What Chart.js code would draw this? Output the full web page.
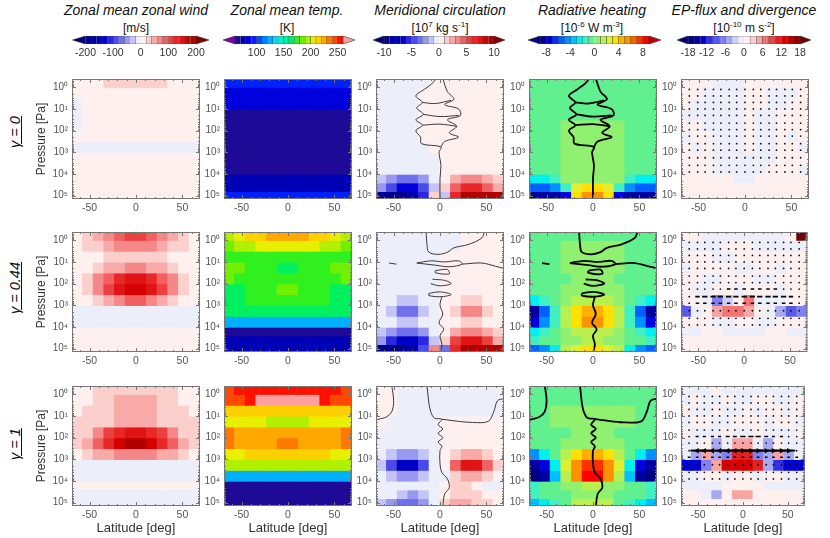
<!DOCTYPE html>
<html>
<head>
<meta charset="utf-8">
<script src="https://cdn.jsdelivr.net/npm/chart.js@4.4.1/dist/chart.umd.min.js"></script>
<style>
body{margin:0;width:830px;height:538px;background:#fff;position:relative;overflow:hidden;font-family:"Liberation Sans",Arial,sans-serif;color:#111}
canvas{position:absolute}
.t{position:absolute;top:2px;width:200px;text-align:center;font-style:italic;font-size:14px}
.u{position:absolute;top:21px;width:200px;text-align:center;font-size:12px;line-height:14px}
.u sup{font-size:8px;line-height:0}
.g{position:absolute;left:15px;font-style:italic;font-size:14.5px;text-decoration:underline;white-space:nowrap;transform:translate(-50%,-50%) rotate(-90deg)}
</style>
</head>
<body>
<div class="t" style="left:36px">Zonal mean zonal wind</div>
<div class="t" style="left:187px">Zonal mean temp.</div>
<div class="t" style="left:340px">Meridional circulation</div>
<div class="t" style="left:492px">Radiative heating</div>
<div class="t" style="left:644px">EP-flux and divergence</div>
<div class="u" style="left:36px">[m/s]</div>
<div class="u" style="left:187px">[K]</div>
<div class="u" style="left:340px">[10<sup>7</sup> kg s<sup>-1</sup>]</div>
<div class="u" style="left:492px">[10<sup>-6</sup> W m<sup>-3</sup>]</div>
<div class="u" style="left:644px">[10<sup>-10</sup> m s<sup>-2</sup>]</div>
<div class="g" style="top:132px">γ = 0</div>
<div class="g" style="top:288px">γ = 0.44</div>
<div class="g" style="top:444px">γ = 1</div>
<script>
// grid: latitude cell centres (deg) and pressure cell edges (log10 Pa)
const lat = [-63.25, -51.75, -40.25, -28.75, -17.25, -5.75, 5.75, 17.25, 28.75, 40.25, 51.75, 63.25];
const logP = [-0.4, 0, 0.5, 1, 1.5, 2, 2.5, 3, 3.5, 4, 4.4, 4.8, 5.2];
const latTicks = [-50, 0, 50];
const pTicks = [0, 1, 2, 3, 4, 5];

// zonal mean zonal wind [m/s]
const uG0 = [
  [5,5,5,25,25,25,25,25,25,5,5,5],
  [5,5,5,5,5,5,5,5,5,5,5,5],
  [-5,5,5,5,5,5,5,5,5,5,5,5],
  [-5,5,5,5,5,5,5,5,5,5,5,5],
  [-5,5,5,5,5,5,5,5,5,5,5,5],
  [5,5,5,5,5,5,5,5,5,5,5,5],
  [-5,-5,-5,-5,-5,-5,-5,-5,-5,-5,-5,-5],
  [5,5,5,5,5,5,5,5,5,5,5,5],
  [5,5,5,5,5,5,5,5,5,5,5,5],
  [5,5,5,5,5,5,5,5,5,5,5,5],
  [5,5,5,5,5,5,5,5,5,5,5,5],
  [5,5,5,5,5,5,5,5,5,5,5,5]
];
const uG044 = [
  [15,30,50,70,90,100,100,90,70,50,30,15],
  [10,25,35,50,65,75,75,65,50,35,25,10],
  [5,5,15,25,25,25,25,25,25,15,5,5],
  [5,15,30,45,55,60,60,55,45,30,15,5],
  [5,30,60,95,125,145,145,125,95,60,30,5],
  [5,35,70,110,150,170,170,150,110,70,35,5],
  [5,15,35,55,70,80,80,70,55,35,15,5],
  [-5,-5,-5,-5,-5,-5,-5,-5,-5,-5,-5,-5],
  [-5,-5,-5,-5,-5,-5,-5,-5,-5,-5,-5,-5],
  [5,5,5,5,5,5,5,5,5,5,5,5],
  [5,5,5,5,5,5,5,5,5,5,5,5],
  [5,5,5,5,5,5,5,5,5,5,5,5]
];
const uG1 = [
  [5,5,25,25,25,25,25,25,25,25,5,5],
  [5,5,25,30,45,45,45,45,30,25,5,5],
  [5,25,25,30,45,50,50,45,30,25,25,5],
  [25,25,30,35,40,45,45,40,35,30,25,25],
  [25,35,60,100,130,150,150,130,100,60,35,25],
  [25,40,80,130,165,185,185,165,130,80,40,25],
  [15,25,40,55,65,70,70,65,55,40,25,15],
  [-5,-5,-5,-5,-5,-5,-5,-5,-5,-5,-5,-5],
  [-5,-5,-5,-5,-5,-5,-5,-5,-5,-5,-5,-5],
  [5,5,5,5,5,5,5,5,5,5,5,5],
  [-5,-5,-5,-5,-5,-5,-5,-5,-5,-5,-5,-5],
  [-5,-5,-5,-5,-5,-5,-5,-5,-5,-5,-5,-5]
];

// zonal mean temperature [K]
const tG0 = [
  [95,95,95,95,95,95,95,95,95,95,95,95],
  [85,85,85,85,85,85,85,85,85,85,85,85],
  [85,85,85,85,85,85,85,85,85,85,85,85],
  [65,65,65,65,65,65,65,65,65,65,65,65],
  [65,65,65,65,65,65,65,65,65,65,65,65],
  [65,65,65,65,65,65,65,65,65,65,65,65],
  [65,65,65,65,65,65,65,65,65,65,65,65],
  [65,65,65,65,65,65,65,65,65,65,65,65],
  [65,65,65,65,65,65,65,65,65,65,65,65],
  [75,75,75,75,75,75,75,75,75,75,75,75],
  [75,75,75,75,75,75,75,75,75,75,75,75],
  [90,90,90,90,90,90,90,90,90,90,90,90]
];
const tG044 = [
  [195,205,210,215,225,225,225,225,215,210,205,195],
  [185,190,195,200,205,205,205,205,200,195,190,185],
  [175,175,175,175,175,175,175,175,175,175,175,175],
  [185,185,175,175,175,165,165,175,175,175,185,185],
  [185,175,175,175,175,175,175,175,175,175,175,185],
  [165,165,175,175,175,185,185,175,175,175,165,165],
  [165,165,175,175,175,175,175,175,175,175,165,165],
  [165,165,165,165,165,165,165,165,165,165,165,165],
  [125,125,125,125,125,125,125,125,125,125,125,125],
  [65,65,65,65,65,65,65,65,65,65,65,65],
  [75,75,75,75,75,75,75,75,75,75,75,75],
  [75,75,75,75,75,75,75,75,75,75,75,75]
];
const tG1 = [
  [245,250,255,255,255,255,255,255,255,255,250,245],
  [242,248,255,262,262,262,262,262,262,255,248,242],
  [215,215,215,215,215,215,215,215,215,215,215,215],
  [205,205,205,205,195,195,195,195,205,205,205,205],
  [235,225,222,222,222,222,222,222,222,222,225,235],
  [235,225,222,222,222,232,232,222,222,222,225,235],
  [205,205,215,215,215,215,215,215,215,215,205,205],
  [195,195,195,195,195,195,195,195,195,195,195,195],
  [125,125,125,125,125,125,125,125,125,125,125,125],
  [65,65,65,65,65,65,65,65,65,65,65,65],
  [65,65,65,65,65,65,65,65,65,65,65,65],
  [65,65,65,65,65,65,65,65,65,65,65,65]
];

// meridional circulation [1e7 kg/s]
const psiG0 = [
  [-0.5,-0.5,-0.5,-0.5,-0.5,0.5,0.5,0.5,0.5,0.5,0.5,0.5],
  [-0.5,-0.5,-0.5,-0.5,0.5,0.5,0.5,0.5,0.5,0.5,0.5,0.5],
  [-0.5,-0.5,-0.5,-0.5,0.5,0.5,0.5,0.5,0.5,0.5,0.5,0.5],
  [-0.5,-0.5,-0.5,-0.5,0.5,0.5,0.5,0.5,0.5,0.5,0.5,0.5],
  [-0.5,-0.5,-0.5,-0.5,0.5,0.5,0.5,0.5,0.5,0.5,0.5,0.5],
  [-0.5,-0.5,-0.5,-0.5,0.5,0.5,0.5,0.5,0.5,0.5,0.5,0.5],
  [-0.5,-0.5,-0.5,-0.5,-0.5,0.5,0.5,0.5,0.5,0.5,0.5,0.5],
  [-0.5,-0.5,-0.5,-0.5,-0.5,-0.5,0.5,0.5,0.5,0.5,0.5,0.5],
  [-0.5,-0.5,-0.5,-0.5,-0.5,-0.5,0.5,0.5,0.5,0.5,0.5,0.5],
  [-1.5,-2.5,-3.5,-3.5,-2.5,-0.5,0.5,2.5,3.5,3.5,2.5,1.5],
  [-2.5,-4.5,-6.5,-6.5,-4.5,-1.5,1.5,4.5,6.5,6.5,4.5,2.5],
  [-9.5,-9.5,-9.5,-8.5,-5.5,1.5,-1.5,6.5,9.5,9.5,9.5,9.5]
];
const psiG044 = [
  [-0.5,-0.5,-0.5,-0.5,-0.5,-0.5,-0.5,-0.5,0.5,0.5,0.5,0.5],
  [-0.5,-0.5,-0.5,-0.5,-0.5,-0.5,-0.5,-0.5,0.5,0.5,0.5,0.5],
  [-0.5,-0.5,-0.5,-0.5,-0.5,-0.5,0.5,0.5,0.5,0.5,0.5,0.5],
  [-0.5,-0.5,-0.5,-0.5,-0.5,-0.5,0.5,0.5,0.5,0.5,0.5,0.5],
  [-0.5,-0.5,-0.5,-0.5,-0.5,-0.5,0.5,0.5,0.5,0.5,0.5,0.5],
  [-0.5,-0.5,-0.5,-0.5,-0.5,-0.5,0.5,0.5,0.5,0.5,0.5,0.5],
  [-0.5,-0.5,-1.5,-1.5,-0.5,-0.5,0.5,0.5,1.5,1.5,0.5,0.5],
  [-0.5,-1.5,-3.5,-3.5,-1.5,-0.5,0.5,1.5,3.5,3.5,1.5,0.5],
  [-0.5,-0.5,-1.5,-1.5,-0.5,-0.5,0.5,0.5,1.5,1.5,0.5,0.5],
  [-1.5,-2.5,-3.5,-3.5,-2.5,-0.5,0.5,2.5,3.5,3.5,2.5,1.5],
  [-2.5,-5.5,-7.5,-7.5,-5.5,-1.5,1.5,5.5,7.5,7.5,5.5,2.5],
  [-9.5,-9.5,-9.5,-8.5,-4.5,3.5,-3.5,6.5,9.5,9.5,9.5,9.5]
];
const psiG1 = [
  [0.5,0.5,-0.5,-0.5,-0.5,-0.5,-0.5,-0.5,-0.5,-0.5,-0.5,-0.5],
  [0.5,0.5,-0.5,-0.5,-0.5,-0.5,-0.5,-0.5,-0.5,-0.5,-0.5,-0.5],
  [0.5,0.5,-0.5,-0.5,-0.5,-0.5,-0.5,-0.5,-0.5,-0.5,-0.5,-0.5],
  [0.5,-0.5,-0.5,-0.5,-0.5,-0.5,0.5,0.5,0.5,0.5,0.5,0.5],
  [-0.5,-0.5,-0.5,-0.5,-0.5,-0.5,0.5,0.5,0.5,0.5,0.5,0.5],
  [-0.5,-0.5,-0.5,-0.5,-0.5,-0.5,0.5,0.5,0.5,0.5,0.5,0.5],
  [-0.5,-1.5,-2.5,-2.5,-1.5,-0.5,0.5,1.5,2.5,2.5,1.5,0.5],
  [-1.5,-4.5,-7.5,-7.5,-4.5,-0.5,0.5,4.5,7.5,7.5,4.5,1.5],
  [-0.5,-1.5,-2.5,-2.5,-1.5,-0.5,-0.5,1.5,2.5,2.5,1.5,0.5],
  [-0.5,-0.5,-0.5,-0.5,-0.5,-0.5,0.5,1.5,1.5,0.5,-0.5,-0.5],
  [-0.5,-0.5,-1.5,-2.5,-1.5,-0.5,0.5,1.5,1.5,1.5,0.5,0.5],
  [-1.5,-2.5,-3.5,-3.5,-2.5,-0.5,1.5,2.5,2.5,1.5,1.5,0.5]
];

// zero contours of the circulation, [lat, log10 p] pairs (also drawn over the heating panels)
const psiZeroG0 = [
  [[0,5.2],[0,4.2],[1,3.6],[-1,3.0],[1,2.75],[-20,2.6],[-21,2.3],[-26,2.0],[-19,1.75],[-26,1.5],[-18,1.25],[-25,0.95],[-19,0.7],[-26,0.4],[-17,0.1],[-9,-0.15],[-4,-0.4]],
  [[3,-0.4],[8,0.2],[15,0.55],[5,0.8],[20,1.0],[22,1.3],[8,1.5],[18,1.8],[10,2.1],[20,2.3],[5,2.5],[1,2.75]],
  [[-19,0.7],[-5,0.75],[12,0.6]],
  [[-18,1.25],[0,1.35],[20,1.3]],
  [[-19,1.75],[0,1.7],[18,1.8]]
];
const psiZeroG044 = [
  [[-15,-0.4],[-14,0.2],[-12,0.55],[-2,0.65],[8,0.55],[15,0.35],[30,0.2],[45,-0.1],[48,-0.4]],
  [[-25,1.05],[-10,0.95],[5,1.0],[20,0.95],[24,1.1],[10,1.22],[-5,1.15],[-25,1.05]],
  [[24,1.1],[45,1.05],[60,1.2],[69,1.3]],
  [[-55,1.05],[-47,1.1]],
  [[-5,1.4],[8,1.35],[10,1.55],[-5,1.5],[-5,1.4]],
  [[-8,1.8],[5,1.85],[12,2.0],[0,2.1],[-10,2.0]],
  [[-12,2.45],[0,2.38],[12,2.5],[2,2.6],[-12,2.55],[-12,2.45]],
  [[2,2.6],[0,3.0],[3,3.4],[-1,3.8],[4,4.1],[0,4.4],[2,4.8],[0,5.2]]
];
const psiZeroG1 = [
  [[-52,-0.4],[-50,0.3],[-52,0.8],[-58,1.05],[-66,1.15],[-69,1.2]],
  [[-14,-0.4],[-12,0.4],[-10,0.8],[-6,1.1],[2,1.15],[-2,1.4],[3,1.6],[-2,1.8],[3,2.0],[-2,2.2],[2,2.4],[0,2.6],[0,3.2],[2,3.6],[8,3.9],[10,4.3],[5,4.6],[3,5.2]],
  [[2,1.15],[20,1.25],[35,1.3],[52,1.25],[58,0.8],[62,0.3],[69,0.2]]
];

// radiative heating [1e-6 W/m3]
const qG0 = [
  [-0.5,-0.5,-0.5,-0.5,-0.5,-0.5,-0.5,-0.5,-0.5,-0.5,-0.5,-0.5],
  [-0.5,-0.5,-0.5,-0.5,-0.5,-0.5,-0.5,-0.5,-0.5,-0.5,-0.5,-0.5],
  [-0.5,-0.5,-0.5,-0.5,-0.5,-0.5,-0.5,-0.5,-0.5,-0.5,-0.5,-0.5],
  [-0.5,-0.5,-0.5,-0.5,-0.5,-0.5,-0.5,-0.5,-0.5,-0.5,-0.5,-0.5],
  [-0.5,-0.5,-0.5,0.5,0.5,0.5,0.5,0.5,0.5,-0.5,-0.5,-0.5],
  [-0.5,-0.5,-0.5,0.5,0.5,0.5,0.5,0.5,0.5,-0.5,-0.5,-0.5],
  [-0.5,-0.5,-0.5,0.5,0.5,0.5,0.5,0.5,0.5,-0.5,-0.5,-0.5],
  [-0.5,-0.5,-0.5,0.5,0.5,0.5,0.5,0.5,0.5,-0.5,-0.5,-0.5],
  [-0.5,-0.5,-0.5,0.5,0.5,0.5,0.5,0.5,0.5,-0.5,-0.5,-0.5],
  [-2.5,-2.5,-1.5,0.5,0.5,0.5,0.5,0.5,0.5,-1.5,-2.5,-2.5],
  [-5.5,-5.5,-4.5,-1.5,2.5,3.5,3.5,2.5,-1.5,-4.5,-5.5,-5.5],
  [-8.5,-8.5,-8.5,-7.5,3.5,5.5,5.5,3.5,-7.5,-8.5,-8.5,-8.5]
];
const qG044 = [
  [-0.5,-0.5,-0.5,-0.5,-0.5,-0.5,-0.5,-0.5,-0.5,-0.5,-0.5,-0.5],
  [-0.5,-0.5,-0.5,0.5,0.5,0.5,0.5,0.5,0.5,-0.5,-0.5,-0.5],
  [-0.5,-0.5,-0.5,0.5,0.5,0.5,0.5,0.5,0.5,-0.5,-0.5,-0.5],
  [-0.5,-0.5,-0.5,0.5,0.5,0.5,0.5,0.5,0.5,-0.5,-0.5,-0.5],
  [-0.5,-0.5,-0.5,-0.5,0.5,0.5,0.5,0.5,-0.5,-0.5,-0.5,-0.5],
  [-0.5,-0.5,-0.5,0.5,0.5,0.5,0.5,0.5,0.5,-0.5,-0.5,-0.5],
  [-2.5,-1.5,-0.5,0.5,1.5,1.5,1.5,1.5,0.5,-0.5,-1.5,-2.5],
  [-8.5,-5.5,-1.5,1.5,3.5,4.5,4.5,3.5,1.5,-1.5,-5.5,-8.5],
  [-7.5,-4.5,-1.5,1.5,3.5,5.5,5.5,3.5,1.5,-1.5,-4.5,-7.5],
  [-2.5,-1.5,-0.5,0.5,1.5,1.5,1.5,1.5,0.5,-0.5,-1.5,-2.5],
  [-1.5,-0.5,-0.5,0.5,0.5,1.5,1.5,0.5,0.5,-0.5,-0.5,-1.5],
  [-5.5,-4.5,-2.5,1.5,2.5,3.5,3.5,2.5,1.5,-2.5,-4.5,-5.5]
];
const qG1 = [
  [-0.5,-0.5,-0.5,-0.5,-0.5,-0.5,-0.5,-0.5,-0.5,-0.5,-0.5,-0.5],
  [-0.5,-0.5,-0.5,-0.5,-0.5,-0.5,-0.5,-0.5,-0.5,-0.5,-0.5,-0.5],
  [-0.5,-0.5,0.5,0.5,0.5,0.5,0.5,0.5,0.5,0.5,-0.5,-0.5],
  [-0.5,-0.5,0.5,0.5,0.5,0.5,0.5,0.5,0.5,0.5,-0.5,-0.5],
  [-0.5,-0.5,-0.5,-0.5,0.5,0.5,0.5,0.5,-0.5,-0.5,-0.5,-0.5],
  [-0.5,-0.5,-0.5,0.5,0.5,0.5,0.5,0.5,0.5,-0.5,-0.5,-0.5],
  [-4.5,-2.5,-0.5,1.5,3.5,4.5,4.5,3.5,1.5,-0.5,-2.5,-4.5],
  [-8.5,-7.5,-2.5,2.5,5.5,7.5,7.5,5.5,2.5,-2.5,-7.5,-8.5],
  [-9.5,-8.5,-3.5,1.5,5.5,8.5,8.5,5.5,1.5,-3.5,-8.5,-9.5],
  [-1.5,-0.5,-0.5,0.5,0.5,1.5,1.5,0.5,0.5,-0.5,-0.5,-1.5],
  [-1.5,-0.5,-0.5,-0.5,0.5,0.5,0.5,0.5,-0.5,-0.5,-0.5,-1.5],
  [-3.5,-2.5,-1.5,-0.5,1.5,1.5,1.5,1.5,-0.5,-1.5,-2.5,-3.5]
];

// EP-flux divergence [1e-10 m/s2]
const epG0 = [
  [1,1,1,-1,-1,-1,1,1,1,1,1,1],
  [1,1,-1,-1,-1,-1,1,1,-1,-1,-1,1],
  [1,-1,-1,-1,-1,-1,1,1,-1,-1,1,1],
  [-1,-1,-1,-1,-1,-1,1,-1,-1,1,1,1],
  [1,1,-1,-1,-1,-1,1,-1,-1,1,1,1],
  [-1,1,1,-1,-1,-1,1,-1,-1,1,-1,1],
  [1,-1,1,-1,-1,-1,1,-1,-1,1,1,-1],
  [1,1,1,-1,-1,-1,-1,-1,-1,1,1,1],
  [1,1,1,-1,-1,-1,-1,-1,1,1,1,-1],
  [1,1,1,1,1,-1,-1,1,1,1,1,1],
  [1,1,1,1,1,1,1,1,1,1,1,1],
  [1,1,1,1,1,1,1,1,1,1,1,1]
];
const epG044 = [
  [1,1,-1,-1,-1,-1,-1,-1,-1,-1,1,20],
  [-1,-1,-1,-1,1,1,1,-1,-1,-1,-1,-1],
  [1,1,1,-1,-1,1,1,1,1,1,1,1],
  [-1,1,1,1,1,-1,-1,1,1,-1,1,1],
  [1,1,-1,-1,1,1,1,-1,-1,1,1,1],
  [1,-1,-1,1,1,-1,1,1,1,-1,1,1],
  [1,1,-1,-7,-3,1,7,-1,-1,-1,1,1],
  [-9,-1,1,5,7,7,5,1,-1,-5,-9,-7],
  [1,1,1,-1,-1,1,1,-1,-1,1,1,1],
  [-1,-1,1,1,-1,-1,-1,-1,1,1,-1,-1],
  [1,1,1,1,1,1,1,1,1,1,1,1],
  [1,1,1,1,1,1,1,1,1,1,1,1]
];
const epG1 = [
  [-1,-1,-1,1,-1,-1,-1,-1,-1,-1,-1,-1],
  [-1,1,-1,-1,1,-1,-1,1,1,-1,-1,1],
  [1,-1,-1,1,-1,-1,1,-1,1,1,-1,1],
  [-1,1,1,-1,-1,1,1,1,-1,1,1,-1],
  [1,-1,-1,-1,1,-1,-1,1,-1,-1,-1,1],
  [-1,-1,1,-5,-1,5,5,-1,-5,1,-1,-1],
  [-1,-5,5,-5,-7,11,11,-7,-5,5,-5,-1],
  [-13,-13,-7,5,13,13,13,11,-5,-11,-13,-13],
  [-1,-1,1,1,-1,1,1,-1,1,1,-1,-1],
  [-1,-1,-1,-1,1,1,1,1,-1,-1,-1,-1],
  [1,1,-1,-5,1,5,5,1,1,1,1,1],
  [1,1,1,1,1,1,1,1,1,1,1,1]
];

// EP-flux vectors: sampling grid and horizontal component on the rows where it shows
const epLat = [-60, -51, -43, -34, -26, -17, -9, 0, 9, 17, 26, 34, 43, 51, 60];
const epP = [0.1, 0.4, 0.7, 1.0, 1.3, 1.65, 1.95, 2.25, 2.6, 2.9, 3.25, 3.6, 3.9];
const epRowsG0 = [];
const epUG0 = [];
const epRowsG044 = [2.25, 2.6, 2.9];
const epUG044 = [
  [0,0,0,0,0,-0.8,-0.8,0.8,0.8,0.8,0.8,0.8,0,0,0],
  [0,-1,-1.2,-1.2,-1.2,-1.2,-1.2,1.2,1.2,1.2,1.2,1.2,1.2,1,0],
  [0,-0.8,-0.8,-0.8,-0.8,-0.8,-0.8,0.8,0.8,0.8,0.8,0.8,0.8,0.8,0]
];
const epRowsG1 = [1.95, 2.6, 2.9];
const epUG1 = [
  [0,0.7,0.7,0.7,0.7,0.9,0.9,1.2,1.2,1.2,0.9,0.7,0.7,0,0],
  [0,-3,-3,-3,-3,-3,-3,3,3,3,3,3,3,3,0],
  [0.6,0.6,0.6,0.6,0.6,0.6,0.6,0.6,0.6,0.6,0.6,0.6,0.6,0.6,0.6]
];

const FONT = '"Liberation Sans", Arial, sans-serif';
const SUP = ['\u2070','\u00b9','\u00b2','\u00b3','\u2074','\u2075'];

const bwr20 = ['#00008c','#0000a8','#0000c4','#0000dc','#2828e4','#4a4ae8','#7070ec','#9898f0','#c4c4f6','#eceef9',
               '#fdf0ee','#fbd0cc','#f8aaa8','#f48888','#f06060','#ec4040','#e82828','#e01414','#d40000','#b00000'];
const bwr18 = ['#00008c','#0000b0','#0000d4','#3030e4','#5858ea','#8080ee','#a8a8f2','#d0d0f6','#eceef9',
               '#fdf0ee','#fbd0cc','#f7a4a2','#f27474','#ec4444','#e42020','#d80000','#b80000','#900000'];
const rainbowT = ['#1e0a96','#0000b4','#0000dc','#0020ff','#0050ff','#0080ff','#00b0ff','#00d8f8','#00f0d0','#00f0a0',
                  '#00f060','#30f020','#70f000','#b0f000','#e8f000','#ffd000','#ffa800','#ff7800','#ff4800','#ff1000'];
const rainbowQ = ['#0000a0','#0000e0','#0030ff','#0060ff','#0090ff','#00c0ff','#00f0f0','#40f0c0','#60f090',
                  '#90f070','#b8f050','#e0f030','#ffe000','#ffb000','#ff9000','#ff6000','#ff3000','#ff0000'];

const maps = [
  {colors: bwr20, min: -200, step: 20, under: '#000070', over: '#800000', ticks: [-200,-100,0,100,200], bar: [85, 196], arrow: 13},
  {colors: rainbowT, min: 60, step: 10, under: '#8000b0', over: '#ffa0a0', ticks: [100,150,200,250], bar: [235, 343], arrow: 12},
  {colors: bwr20, min: -10, step: 1, under: '#000070', over: '#800000', ticks: [-10,-5,0,5,10], bar: [384, 494], arrow: 11},
  {colors: rainbowQ, min: -9, step: 1, under: '#000080', over: '#c00000', ticks: [-8,-4,0,4,8], bar: [540, 649], arrow: 12},
  {colors: bwr18, min: -18, step: 2, under: '#000070', over: '#700000', ticks: [-18,-12,-6,0,6,12,18], bar: [688, 800], arrow: 11}
];

const grids = [
  [uG0, tG0, psiG0, qG0, epG0],
  [uG044, tG044, psiG044, qG044, epG044],
  [uG1, tG1, psiG1, qG1, epG1]
];
const psiZero = [psiZeroG0, psiZeroG044, psiZeroG1];
const epRows = [epRowsG0, epRowsG044, epRowsG1];
const epU = [epUG0, epUG044, epUG1];

const colLeft = [72, 224, 376, 529, 681];
const rowTop = [72, 225, 379];
const PW = 128, PH = 127;

function colorOf(m, v) {
  const i = Math.floor((v - m.min) / m.step);
  if (i < 0) return m.under;
  if (i >= m.colors.length) return m.over;
  return m.colors[i];
}

const frame = {
  id: 'frame',
  afterDatasetsDraw(chart) {
    const {ctx, chartArea: a, scales: {x, y}} = chart;
    ctx.save();
    ctx.strokeStyle = '#777';
    ctx.lineWidth = 1;
    ctx.beginPath();
    for (let v = -60; v <= 60; v += 10) {
      const px = Math.round(x.getPixelForValue(v)) + 0.5;
      const len = v % 50 === 0 ? 4 : 2;
      ctx.moveTo(px, a.top); ctx.lineTo(px, a.top + len);
      ctx.moveTo(px, a.bottom); ctx.lineTo(px, a.bottom - len);
    }
    for (let d = -1; d <= 5; d++) {
      for (let k = 1; k < 10; k++) {
        const v = d + Math.log10(k);
        if (v < y.min || v > y.max) continue;
        const py = Math.round(y.getPixelForValue(v)) + 0.5;
        const len = k === 1 ? 4 : 2;
        ctx.moveTo(a.left, py); ctx.lineTo(a.left + len, py);
        ctx.moveTo(a.right, py); ctx.lineTo(a.right - len, py);
      }
    }
    ctx.stroke();
    ctx.strokeRect(a.left + 0.5, a.top + 0.5, a.width - 1, a.height - 1);
    ctx.restore();
  }
};

function epSets(rows, us) {
  const dots = [];
  epP.forEach(p => {
    const k = rows.indexOf(p);
    epLat.forEach((x, i) => { if (k < 0 || us[k][i] === 0) dots.push({x, y: p}); });
  });
  const sets = [{type: 'scatter', data: dots, pointRadius: 0.9, pointBackgroundColor: '#111', backgroundColor: '#111',
                 pointBorderWidth: 0, borderWidth: 0, order: 0}];
  rows.forEach((p, k) => {
    const pts = [], rad = [], heads = [], rot = [];
    epLat.forEach((x, i) => {
      const u = us[k][i];
      if (!u) return;
      pts.push({x, y: p});
      rad.push(Math.abs(u) * 2.2);
      if (Math.abs(u) >= 2) { heads.push({x, y: p}); rot.push(u > 0 ? 90 : -90); }
    });
    sets.push({type: 'scatter', data: pts, pointStyle: 'line', pointRadius: rad, pointBorderColor: '#000', borderColor: '#000',
               pointBorderWidth: 1.6, borderWidth: 1.6, order: 0});
    if (heads.length) {
      sets.push({type: 'scatter', data: heads, pointStyle: 'triangle', pointRadius: 3.2, pointRotation: rot,
                 pointBackgroundColor: '#000', backgroundColor: '#000', pointBorderWidth: 0, borderWidth: 0, order: 0});
    }
  });
  return sets;
}

function contourSets(lines, color, width) {
  return lines.map(pts => ({
    type: 'line',
    data: pts.map(([x, y]) => ({x, y})),
    borderColor: color,
    borderWidth: width,
    pointRadius: 0,
    fill: false,
    tension: 0.35,
    order: 0
  }));
}

function panel(row, col) {
  const grid = grids[row][col], m = maps[col];
  const yw = col === 0 ? 42 : 32;
  const xh = row === 2 ? 32 : 16;
  const padTop = 3, padRight = 4;
  const cv = document.createElement('canvas');
  cv.width = yw + PW + padRight;
  cv.height = padTop + PH + xh;
  cv.style.left = (colLeft[col] - yw) + 'px';
  cv.style.top = (rowTop[row] - padTop) + 'px';
  document.body.appendChild(cv);

  const datasets = grid.map((vals, r) => ({
    type: 'bar',
    data: lat.map(x => ({x, y: [logP[r], logP[r + 1]]})),
    backgroundColor: vals.map(v => colorOf(m, v)),
    borderWidth: 0,
    grouped: false,
    barPercentage: 1,
    categoryPercentage: 1,
    inflateAmount: 0.6,
    order: 1
  }));
  let extra = [];
  if (col === 2) extra = contourSets(psiZero[row], '#3a3a3a', 1);
  if (col === 3) extra = contourSets(psiZero[row], '#000', 1.8);
  if (col === 4) extra = epSets(epRows[row], epU[row]);

  new Chart(cv, {
    type: 'bar',
    data: {datasets: datasets.concat(extra)},
    options: {
      responsive: false,
      animation: false,
      events: [],
      layout: {padding: {top: padTop, right: padRight, left: 0, bottom: 0}},
      plugins: {legend: {display: false}, tooltip: {enabled: false}},
      scales: {
        x: {
          type: 'linear', min: -69, max: 69, offset: false,
          grid: {display: false, drawTicks: false}, border: {display: false},
          afterBuildTicks: s => { s.ticks = latTicks.map(v => ({value: v})); },
          afterFit: s => { s.height = xh; },
          ticks: {padding: 3, maxRotation: 0, autoSkip: false, font: {size: 10.5, family: FONT}, color: '#555'},
          title: {display: row === 2, text: 'Latitude [deg]', font: {size: 13, family: FONT}, color: '#333', padding: {top: 0, bottom: 2}}
        },
        y: {
          type: 'linear', min: -0.38, max: 5.15, reverse: true,
          grid: {display: false, drawTicks: false}, border: {display: false},
          afterBuildTicks: s => { s.ticks = pTicks.map(v => ({value: v})); },
          afterFit: s => { s.width = yw; },
          ticks: {padding: 4, autoSkip: false, font: {size: 10, family: FONT}, color: '#555', callback: v => '10' + SUP[v]},
          title: {display: col === 0, text: 'Pressure [Pa]', font: {size: 12, family: FONT}, color: '#333', padding: {top: 4, bottom: 0}}
        }
      }
    },
    plugins: [frame]
  });
}

const cbArrows = {
  id: 'cbArrows',
  afterDatasetsDraw(chart, args, o) {
    const {ctx, chartArea: a} = chart;
    const mid = (a.top + a.bottom) / 2;
    ctx.save();
    ctx.strokeStyle = '#333';
    ctx.lineWidth = 0.6;
    ctx.fillStyle = o.under;
    ctx.beginPath();
    ctx.moveTo(a.left, a.top); ctx.lineTo(a.left - o.len, mid); ctx.lineTo(a.left, a.bottom); ctx.closePath();
    ctx.fill(); ctx.stroke();
    ctx.fillStyle = o.over;
    ctx.beginPath();
    ctx.moveTo(a.right, a.top); ctx.lineTo(a.right + o.len, mid); ctx.lineTo(a.right, a.bottom); ctx.closePath();
    ctx.fill(); ctx.stroke();
    ctx.restore();
  }
};

function colorbar(col) {
  const m = maps[col];
  const L = m.arrow;
  const cv = document.createElement('canvas');
  cv.width = m.bar[1] - m.bar[0] + 2 * L;
  cv.height = 24;
  cv.style.left = (m.bar[0] - L) + 'px';
  cv.style.top = '35px';
  document.body.appendChild(cv);
  const n = m.colors.length;
  const datasets = m.colors.map((c, i) => ({
    data: [[m.min + i * m.step, m.min + (i + 1) * m.step]],
    backgroundColor: c,
    borderColor: '#444',
    borderWidth: 0.6,
    grouped: false,
    barPercentage: 1,
    categoryPercentage: 1
  }));
  new Chart(cv, {
    type: 'bar',
    data: {labels: [''], datasets},
    options: {
      indexAxis: 'y',
      responsive: false,
      animation: false,
      events: [],
      layout: {padding: {left: L, right: L, top: 1, bottom: 0}},
      plugins: {legend: {display: false}, tooltip: {enabled: false}, cbArrows: {under: m.under, over: m.over, len: L}},
      scales: {
        y: {display: false},
        x: {
          type: 'linear', min: m.min, max: m.min + n * m.step,
          grid: {display: false, drawTicks: false}, border: {display: false},
          afterBuildTicks: s => { s.ticks = m.ticks.map(v => ({value: v})); },
          afterFit: s => { s.height = 15; },
          ticks: {padding: 3, maxRotation: 0, autoSkip: false, font: {size: 10.5, family: FONT}, color: '#333'}
        }
      }
    },
    plugins: [cbArrows]
  });
}

for (let c = 0; c < 5; c++) colorbar(c);
for (let r = 0; r < 3; r++) for (let c = 0; c < 5; c++) panel(r, c);
</script>
</body>
</html>
